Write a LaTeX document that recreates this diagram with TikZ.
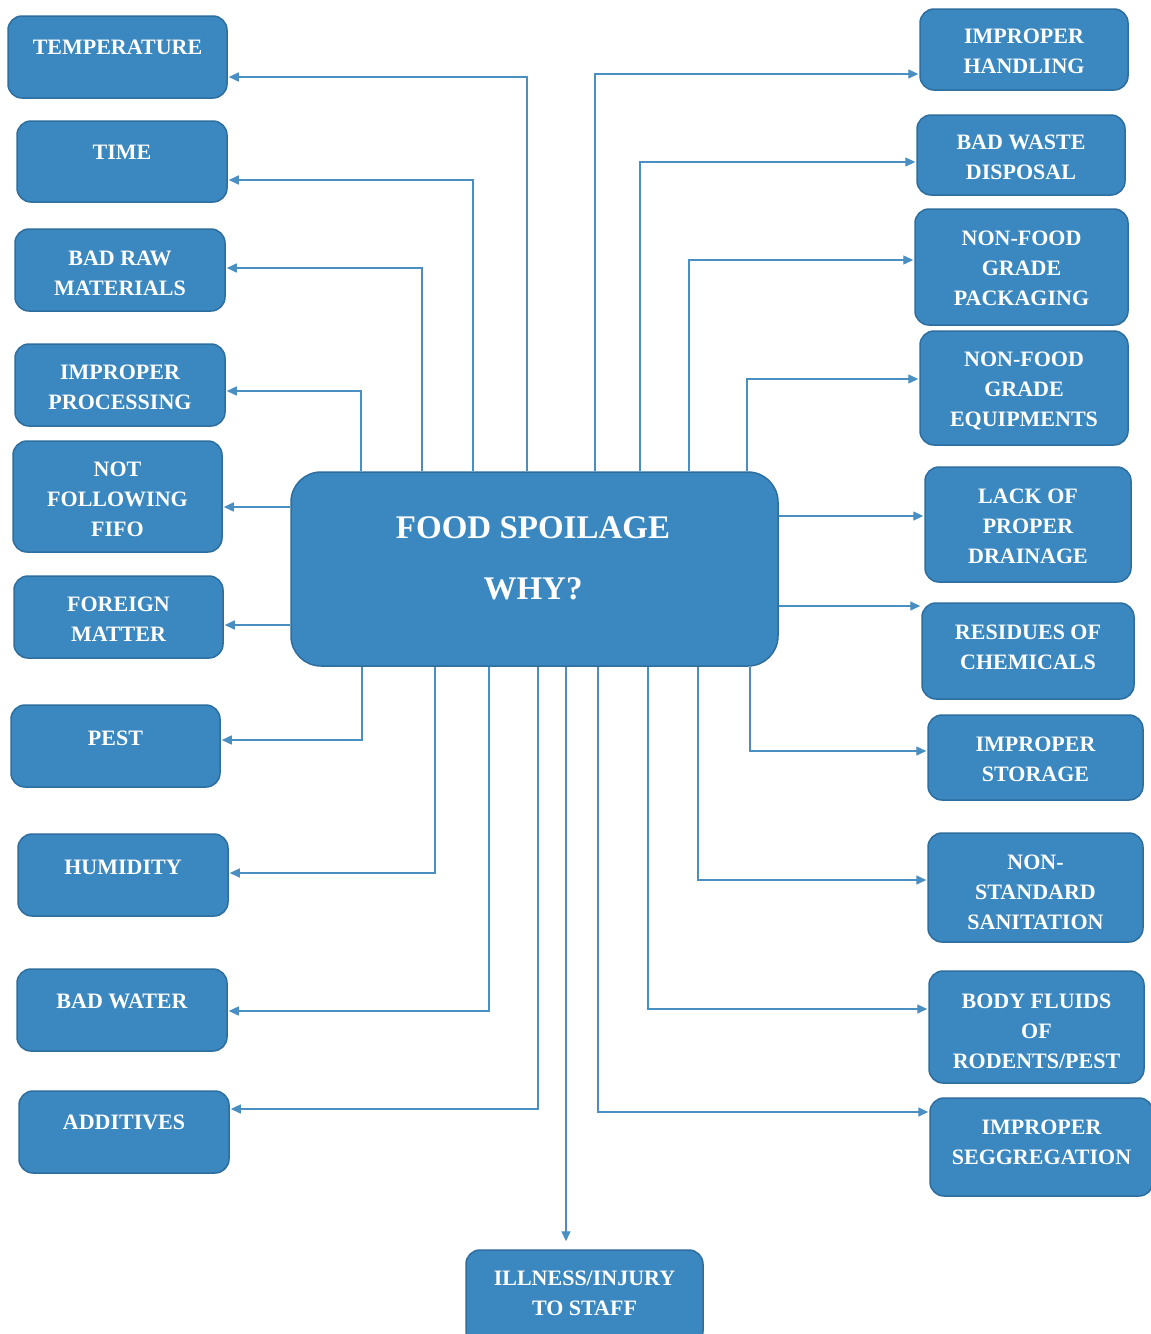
\documentclass[tikz,border=0pt]{standalone}
\usepackage{fontspec}
\setmainfont{Liberation Serif}
\usetikzlibrary{arrows.meta,calc}
\definecolor{boxfill}{HTML}{3A88BF}
\definecolor{boxline}{HTML}{2E6E9E}
\definecolor{conn}{HTML}{4A8FC2}
\tikzset{
  fsb/.style={draw=boxline, line width=1.5pt, fill=boxfill, rounded corners=14pt, inner sep=0pt},
  fst/.style={text=white, font=\bfseries\fontsize{22}{30}\selectfont, align=center, inner sep=0pt, anchor=north},
  arr/.style={draw=conn, line width=1.4pt, -{Triangle[length=10pt,width=9pt]}, shorten >=1pt},
}
\newcommand\fsbox[7]{%
  \node[fsb, minimum width={(#4-#2)*1pt}, minimum height={(#5-#3)*1pt}] (#1) at ({(#2+#4)/2},{(#3+#5)/2}) {};
  \node[fst] (#1t) at ({(#2+#4)/2},{#6-7.5}) {#7};
}
\begin{document}
\begin{tikzpicture}[x=1pt,y=-1pt]
\useasboundingbox[fill=white] (0,0) rectangle (1151,1334);
% centre
\node[fsb, rounded corners=30pt, minimum width=487pt, minimum height=194pt] (c) at (534.5,569) {};
\node[text=white, font=\bfseries\fontsize{33}{61}\selectfont, align=center, inner sep=0pt, anchor=north] (ct) at (533,516) {FOOD SPOILAGE\\WHY?};
% left column
\fsbox{l1}{8}{16}{227}{98}{47}{TEMPERATURE}
\fsbox{l2}{17}{121}{227}{202}{152}{TIME}
\fsbox{l3}{15}{229}{225}{311}{258}{BAD RAW\\MATERIALS}
\fsbox{l4}{15}{344}{225}{426}{372}{IMPROPER\\PROCESSING}
\fsbox{l5}{13}{441}{222}{552}{469}{NOT\\FOLLOWING\\FIFO}
\fsbox{l6}{14}{576}{223}{658}{604}{FOREIGN\\MATTER}
\fsbox{l7}{11}{705}{220}{787}{738}{PEST}
\fsbox{l8}{18}{834}{228}{916}{867}{HUMIDITY}
\fsbox{l9}{17}{969}{227}{1051}{1001}{BAD WATER}
\fsbox{l10}{19}{1091}{229}{1173}{1122}{ADDITIVES}
% right column
\fsbox{r1}{920}{9}{1128}{90}{36}{IMPROPER\\HANDLING}
\fsbox{r2}{917}{115}{1125}{195}{142}{BAD WASTE\\DISPOSAL}
\fsbox{r3}{915}{209}{1128}{325}{238}{NON-FOOD\\GRADE\\PACKAGING}
\fsbox{r4}{920}{331}{1128}{445}{359}{NON-FOOD\\GRADE\\EQUIPMENTS}
\fsbox{r5}{925}{467}{1131}{582}{496}{LACK OF\\PROPER\\DRAINAGE}
\fsbox{r6}{922}{603}{1134}{699}{632}{RESIDUES OF\\CHEMICALS}
\fsbox{r7}{928}{715}{1143}{800}{744}{IMPROPER\\STORAGE}
\fsbox{r8}{928}{833}{1143}{942}{862}{NON-\\STANDARD\\SANITATION}
\fsbox{r9}{929}{971}{1144}{1083}{1001}{BODY FLUIDS\\OF\\RODENTS/PEST}
\fsbox{r10}{930}{1098}{1153}{1196}{1127}{IMPROPER\\SEGGREGATION}
% bottom
\fsbox{b1}{466}{1250}{703}{1345}{1278}{ILLNESS/INJURY\\TO STAFF}
% connectors from top edge
\draw[arr] (c.north -| 527,0) |- (l1.east |- 0,77);
\draw[arr] (c.north -| 473,0) |- (l2.east |- 0,180);
\draw[arr] (c.north -| 422,0) |- (l3.east |- 0,268);
\draw[arr] (c.north -| 361,0) |- (l4.east |- 0,391);
\draw[arr] (c.north -| 595,0) |- (r1.west |- 0,74);
\draw[arr] (c.north -| 640,0) |- (r2.west |- 0,162);
\draw[arr] (c.north -| 689,0) |- (r3.west |- 0,260);
\draw[arr] (c.north -| 747,0) |- (r4.west |- 0,379);
% connectors from side edges
\draw[arr] (c.west |- 0,507) -- (l5.east |- 0,507);
\draw[arr] (c.west |- 0,625) -- (l6.east |- 0,625);
\draw[arr] (c.east |- 0,516) -- (r5.west |- 0,516);
\draw[arr] (c.east |- 0,606) -- (r6.west |- 0,606);
% connectors from bottom edge
\draw[arr] (c.south -| 362,0) |- (l7.east |- 0,740);
\draw[arr] (c.south -| 435,0) |- (l8.east |- 0,873);
\draw[arr] (c.south -| 489,0) |- (l9.east |- 0,1011);
\draw[arr] (c.south -| 538,0) |- (l10.east |- 0,1109);
\draw[arr, shorten >=8pt] (c.south -| 566,0) -- (b1.north -| 566,0);
\draw[arr] (c.south -| 598,0) |- (r10.west |- 0,1112);
\draw[arr] (c.south -| 648,0) |- (r9.west |- 0,1009);
\draw[arr] (c.south -| 698,0) |- (r8.west |- 0,880);
\draw[arr] (c.south -| 750,0) |- (r7.west |- 0,751);
\end{tikzpicture}
\end{document}
